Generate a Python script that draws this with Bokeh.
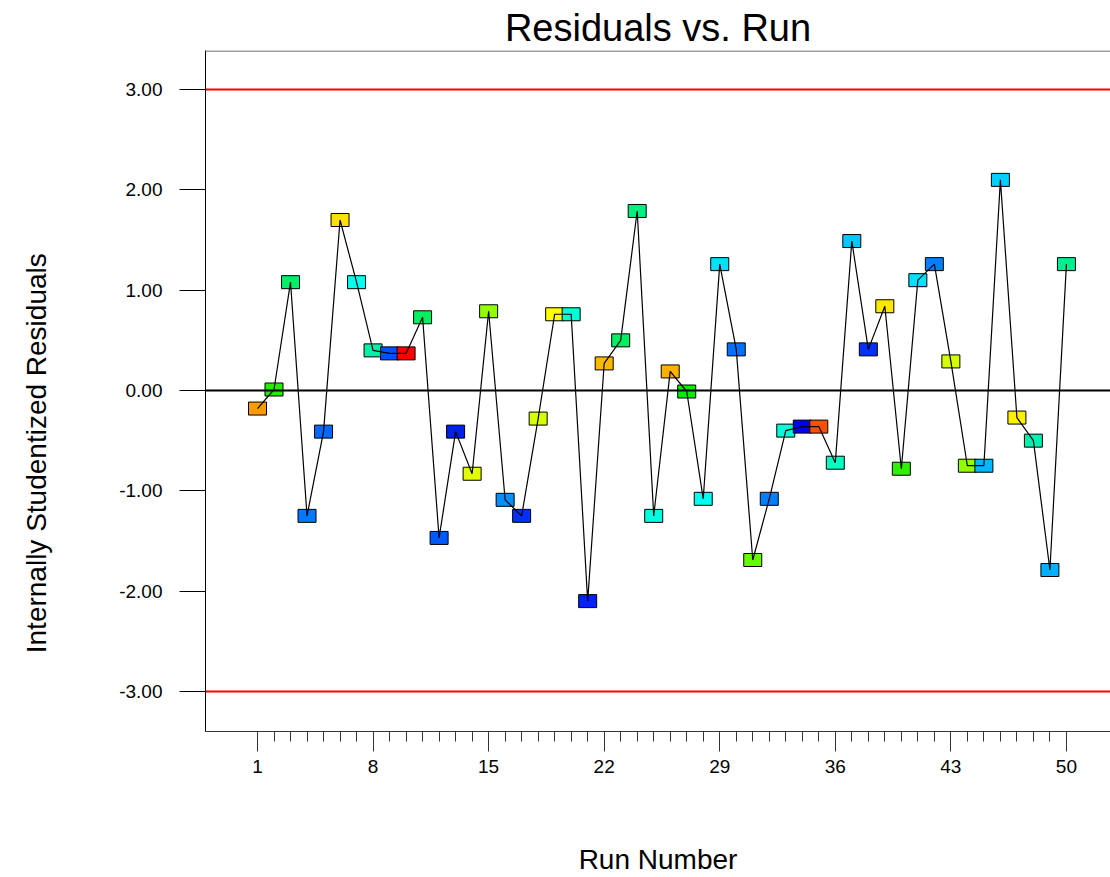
from bokeh.plotting import figure
from bokeh.models import FixedTicker, PrintfTickFormatter, Span, ColumnDataSource
from bokeh.embed import file_html
from bokeh.resources import INLINE

# Internally studentized residuals for each run, in run order
runs = list(range(1, 51))
residuals = [
    -0.18, 0.01, 1.08, -1.25, -0.41, 1.70, 1.08, 0.40, 0.37, 0.37,
    0.73, -1.47, -0.41, -0.83, 0.79, -1.09, -1.25, -0.28, 0.76, 0.76,
    -2.10, 0.27, 0.50, 1.79, -1.25, 0.19, -0.01, -1.08, 1.26, 0.41,
    -1.69, -1.08, -0.40, -0.36, -0.36, -0.72, 1.49, 0.41, 0.84, -0.78,
    1.10, 1.26, 0.29, -0.75, -0.75, 2.10, -0.27, -0.50, -1.79, 1.26,
]
point_colors = [
    "#FF9A00", "#22EE00", "#00F06A", "#0078FF", "#0068FF", "#FFE000", "#00FFEE", "#00F0A8", "#0050FF", "#FF0000",
    "#00F060", "#0058FF", "#0020F0", "#E0FF00", "#90FF00", "#0090FF", "#0030FF", "#D8FF00", "#FFFF00", "#00FFD4",
    "#0020FF", "#FFB800", "#00F060", "#00F080", "#00FFE0", "#FFB000", "#00EE00", "#00FFF0", "#00E0FF", "#0070FF",
    "#60FF00", "#0080FF", "#00FFD8", "#0000F0", "#FF5000", "#00FFC0", "#00C8FF", "#0030FF", "#FFE800", "#30F000",
    "#00E0FF", "#0080FF", "#D8FF00", "#90FF00", "#00B8FF", "#00D0FF", "#FFF000", "#00F0B0", "#00B0FF", "#00F090",
]
limit_lines = [3.0, -3.0]
y_ticks = [-3, -2, -1, 0, 1, 2, 3]
x_major_ticks = [1, 8, 15, 22, 29, 36, 43, 50]

source = ColumnDataSource(dict(run=runs, resid=residuals, color=point_colors))

p = figure(
    width=1110, height=877,
    x_range=(-2.15, 52.67), y_range=(-3.40, 3.39),
    output_backend="svg", toolbar_location=None,
    min_border_left=205, min_border_right=0, min_border_top=50, min_border_bottom=146,
    title="Residuals vs. Run",
)
p.background_fill_color = "white"
p.border_fill_color = "white"
p.outline_line_color = None
p.xgrid.visible = False
p.ygrid.visible = False

p.title.align = "center"
p.title.text_font = "Liberation Sans"
p.title.text_font_size = "38px"
p.title.text_font_style = "normal"
p.title.text_color = "black"
p.title.standoff = 4

# x axis: labelled every 7 runs, a minor tick for every run
p.xaxis.ticker = FixedTicker(ticks=x_major_ticks, minor_ticks=runs)
p.xaxis.axis_label = "Run Number"
p.xaxis.axis_label_text_font = "Liberation Sans"
p.xaxis.axis_label_text_font_size = "28px"
p.xaxis.axis_label_text_font_style = "normal"
p.xaxis.axis_label_text_color = "black"
p.xaxis.axis_label_standoff = 68
p.xaxis.major_label_text_font = "Liberation Sans"
p.xaxis.major_label_text_font_size = "19px"
p.xaxis.major_label_text_color = "black"
p.xaxis.major_label_standoff = 8
p.xaxis.major_tick_out = 20
p.xaxis.major_tick_in = 0
p.xaxis.minor_tick_out = 10
p.xaxis.minor_tick_in = 0
p.xaxis.axis_line_color = "#333333"
p.xaxis.major_tick_line_color = "#333333"
p.xaxis.minor_tick_line_color = "#333333"

# y axis; the trailing no-break spaces push the rotated title a little below centre
p.yaxis.ticker = FixedTicker(ticks=y_ticks, minor_ticks=[])
p.yaxis.formatter = PrintfTickFormatter(format="%.2f")
p.yaxis.axis_label = "Internally Studentized Residuals" + "\u00a0" * 16
p.yaxis.axis_label_text_font = "Liberation Sans"
p.yaxis.axis_label_text_font_size = "28px"
p.yaxis.axis_label_text_font_style = "normal"
p.yaxis.axis_label_text_color = "black"
p.yaxis.axis_label_standoff = 64
p.yaxis.major_label_text_font = "Liberation Sans"
p.yaxis.major_label_text_font_size = "19px"
p.yaxis.major_label_text_color = "black"
p.yaxis.major_label_standoff = 17
p.yaxis.major_tick_out = 26
p.yaxis.major_tick_in = 0
p.yaxis.minor_tick_out = 0
p.yaxis.minor_tick_in = 0
p.yaxis.axis_line_color = "black"
p.yaxis.major_tick_line_color = "black"

# top edge of the plotting area
p.add_layout(Span(location=3.385, dimension="width", line_color="#808080", line_width=1.5))

# control limits and zero reference
for lim in limit_lines:
    p.add_layout(Span(location=lim, dimension="width", line_color="#FF0000", line_width=2))
p.add_layout(Span(location=0, dimension="width", line_color="black", line_width=2))

# coloured rectangular markers, with the run-order line drawn over them
p.rect(x="run", y="resid", width=18, height=13, width_units="screen", height_units="screen",
       fill_color="color", line_color="black", line_width=1, line_join="miter", source=source)
p.line(x="run", y="resid", line_color="black", line_width=1.2, source=source)

open("out.html", "w").write(file_html(p, INLINE))
